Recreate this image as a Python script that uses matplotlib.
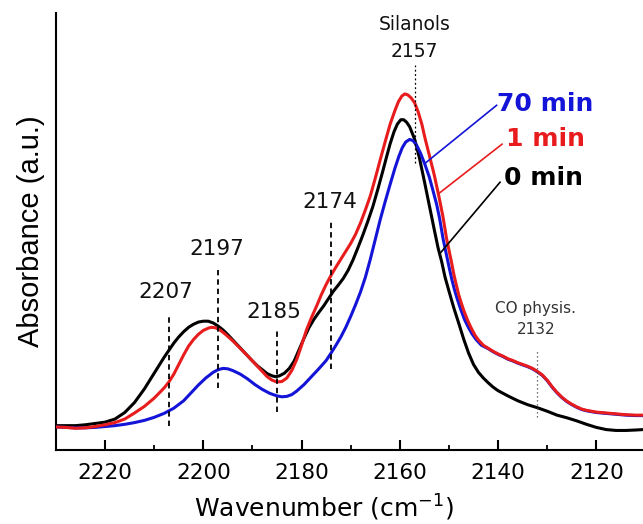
import numpy as np
import matplotlib
matplotlib.use("Agg")
import matplotlib.pyplot as plt
from matplotlib.ticker import MultipleLocator

# CO adsorption spectra, absorbance (a.u.) vs wavenumber (cm-1)
wn_0 = [2230, 2228, 2226, 2224, 2222, 2220, 2218, 2216, 2214, 2212,
        2210, 2208, 2206, 2205, 2204, 2203, 2202, 2201, 2200, 2199,
        2198, 2197, 2196, 2195, 2194, 2193, 2192, 2191, 2190, 2189,
        2188, 2187, 2186, 2185.3, 2184.5, 2183.5, 2182.5, 2181.5, 2180.5, 2179.5,
        2178.5, 2177.5, 2176.5, 2175.5, 2174.5, 2173.5, 2172.5, 2171.5, 2170.5, 2169.5,
        2168.5, 2167.5, 2166.5, 2165.5, 2164.5, 2163.5, 2162.7, 2162, 2161.2, 2160.5,
        2159.8, 2159.2, 2158.6, 2158, 2157, 2156, 2155, 2154, 2153, 2152.2,
        2151.5, 2150.8, 2150, 2149, 2148, 2147, 2146, 2145, 2144, 2143,
        2142, 2141, 2140, 2138, 2136, 2134, 2132, 2130, 2128, 2126,
        2124, 2122, 2120, 2118, 2116, 2114, 2112, 2110.5]
abs_0 = [0.056, 0.056, 0.056, 0.058, 0.061, 0.064, 0.071, 0.086, 0.109, 0.140,
         0.176, 0.212, 0.245, 0.259, 0.271, 0.281, 0.288, 0.293, 0.295, 0.295,
         0.291, 0.284, 0.275, 0.264, 0.252, 0.240, 0.228, 0.216, 0.204, 0.193,
         0.184, 0.175, 0.170, 0.168, 0.170, 0.176, 0.187, 0.204, 0.230, 0.256,
         0.280, 0.299, 0.315, 0.330, 0.347, 0.364, 0.378, 0.393, 0.412, 0.436,
         0.464, 0.493, 0.524, 0.557, 0.596, 0.637, 0.671, 0.700, 0.728, 0.746,
         0.756, 0.756, 0.750, 0.740, 0.712, 0.668, 0.615, 0.560, 0.505, 0.462,
         0.432, 0.396, 0.364, 0.325, 0.290, 0.254, 0.222, 0.196, 0.178, 0.165,
         0.154, 0.144, 0.136, 0.124, 0.113, 0.104, 0.097, 0.089, 0.080, 0.074,
         0.067, 0.059, 0.052, 0.047, 0.045, 0.045, 0.046, 0.047]

wn_1 = [2230, 2228, 2226, 2224, 2222, 2220, 2218, 2216, 2214, 2212,
        2210, 2208, 2207, 2206, 2205, 2204, 2203, 2202, 2201, 2200,
        2199, 2198.4, 2197.5, 2196.5, 2195.5, 2194, 2192.5, 2191, 2189.5, 2188,
        2187, 2186, 2185, 2184, 2183, 2182, 2181, 2180, 2179, 2178,
        2177, 2176, 2175, 2174, 2173, 2172, 2171, 2170, 2169, 2168,
        2167, 2166, 2165, 2164, 2163, 2162, 2161, 2160.3, 2159.6, 2159,
        2158.4, 2157.7, 2157, 2156.3, 2155.5, 2154.9, 2154, 2153, 2152, 2151.2,
        2150.5, 2150, 2149.5, 2149, 2148.5, 2148, 2147.5, 2147, 2146.2, 2145.5,
        2144.7, 2144, 2143, 2142, 2141, 2140, 2139, 2138, 2137, 2136,
        2135, 2134, 2133, 2132, 2131, 2130, 2129, 2128, 2127, 2126,
        2125, 2124, 2123, 2122, 2121, 2120, 2118, 2116, 2114, 2112,
        2110.5]
abs_1 = [0.053, 0.052, 0.050, 0.051, 0.054, 0.058, 0.063, 0.071, 0.085, 0.100,
         0.119, 0.142, 0.156, 0.174, 0.196, 0.218, 0.238, 0.253, 0.265, 0.274,
         0.279, 0.281, 0.280, 0.274, 0.265, 0.250, 0.233, 0.216, 0.198, 0.180,
         0.168, 0.160, 0.156, 0.157, 0.165, 0.182, 0.207, 0.240, 0.275, 0.303,
         0.328, 0.355, 0.379, 0.400, 0.419, 0.437, 0.455, 0.473, 0.494, 0.520,
         0.550, 0.582, 0.622, 0.664, 0.705, 0.745, 0.777, 0.797, 0.810, 0.815,
         0.813, 0.806, 0.795, 0.775, 0.745, 0.715, 0.675, 0.630, 0.578, 0.533,
         0.485, 0.458, 0.431, 0.402, 0.378, 0.355, 0.337, 0.320, 0.297, 0.280,
         0.263, 0.252, 0.240, 0.233, 0.226, 0.220, 0.215, 0.209, 0.205, 0.200,
         0.196, 0.192, 0.187, 0.180, 0.172, 0.160, 0.145, 0.132, 0.121, 0.112,
         0.105, 0.099, 0.094, 0.091, 0.089, 0.087, 0.085, 0.083, 0.081, 0.080,
         0.080]

wn_70 = [2230, 2228, 2226, 2224, 2222, 2220, 2218, 2216, 2214, 2212,
         2210, 2208, 2206, 2204, 2202.5, 2201, 2199.5, 2198, 2197, 2196,
         2195, 2194, 2192.5, 2191, 2189.5, 2188, 2186.5, 2185, 2184, 2183,
         2182, 2181, 2179.5, 2178, 2176.5, 2175, 2174, 2173, 2172, 2171,
         2170, 2169, 2168, 2167, 2166, 2165, 2164, 2163, 2162, 2161,
         2160.2, 2159.5, 2158.8, 2158, 2157.3, 2156.6, 2155.8, 2154.9, 2154, 2153.3,
         2152.5, 2151.9, 2151.2, 2150.7, 2150.3, 2149.8, 2149.4, 2148.9, 2148.4, 2147.6,
         2146.8, 2146, 2145.3, 2144.4, 2143.4, 2142, 2141, 2140, 2139, 2138,
         2137, 2136, 2135, 2134, 2133, 2132, 2131, 2130, 2129, 2128,
         2127, 2126, 2125, 2124, 2123, 2122, 2121, 2120, 2118, 2116,
         2114, 2112, 2110.5]
abs_70 = [0.053, 0.052, 0.051, 0.051, 0.052, 0.054, 0.056, 0.059, 0.063, 0.068,
          0.075, 0.084, 0.096, 0.113, 0.131, 0.149, 0.165, 0.178, 0.184, 0.187,
          0.186, 0.182, 0.174, 0.163, 0.150, 0.139, 0.130, 0.124, 0.122, 0.123,
          0.127, 0.135, 0.150, 0.168, 0.186, 0.205, 0.222, 0.240, 0.259, 0.281,
          0.306, 0.333, 0.362, 0.396, 0.437, 0.482, 0.527, 0.568, 0.607, 0.645,
          0.672, 0.692, 0.705, 0.711, 0.708, 0.698, 0.680, 0.654, 0.625, 0.596,
          0.562, 0.530, 0.484, 0.457, 0.436, 0.410, 0.390, 0.368, 0.349, 0.322,
          0.298, 0.280, 0.266, 0.252, 0.240, 0.232, 0.225, 0.219, 0.214, 0.208,
          0.204, 0.199, 0.195, 0.191, 0.186, 0.179, 0.171, 0.159, 0.144, 0.131,
          0.120, 0.111, 0.104, 0.098, 0.093, 0.090, 0.088, 0.086, 0.084, 0.082,
          0.080, 0.079, 0.079]

# band assignments: position, label anchor (wn, abs), line span (abs)
bands = [2207, 2197, 2185, 2174]
band_text_xy = [(2207.6, 0.362), (2197.2, 0.460), (2185.6, 0.316), (2174.2, 0.567)]
band_span = [(0.055, 0.309), (0.141, 0.412), (0.088, 0.275), (0.185, 0.522)]

red = '#e81c1c'
blue = '#1414d8'

fig = plt.figure(figsize=(6.43, 5.24), dpi=100)
ax = fig.add_axes([0.087, 0.141, 0.913, 0.834])

line_kw = dict(lw=2.2, solid_joinstyle='round', solid_capstyle='round')
ax.plot(wn_0, abs_0, color='black', zorder=3, **line_kw)
ax.plot(wn_70, abs_70, color=blue, zorder=3, **line_kw)
ax.plot(wn_1, abs_1, color=red, zorder=4, **line_kw)

for b, (tx, ty), (y0, y1) in zip(bands, band_text_xy, band_span):
    ax.plot([b, b], [y0, y1], color='black', lw=1.3, ls=(0, (3, 2.2)), zorder=5)
    ax.text(tx, ty, str(b), fontsize=15.5, ha='center', va='center', color='#111111')

# silanol band
ax.plot([2157, 2157], [0.657, 0.881], color='black', lw=0.9, ls=(0, (1.5, 2)), zorder=5)
ax.text(2157, 0.973, 'Silanols', fontsize=13.5, ha='center', va='center', color='#111111')
ax.text(2157, 0.911, '2157', fontsize=13.5, ha='center', va='center', color='#111111')

# physisorbed CO
ax.plot([2132, 2132], [0.076, 0.229], color='#444444', lw=0.9, ls=(0, (1, 2.2)), zorder=5)
ax.text(2132.3, 0.323, 'CO physis.', fontsize=11, ha='center', va='center', color='#333333')
ax.text(2132.3, 0.276, '2132', fontsize=11, ha='center', va='center', color='#333333')

# curve labels with leader lines
ax.plot([2154.9, 2140.3], [0.656, 0.789], color=blue, lw=1.2, zorder=6)
ax.plot([2152.2, 2139.2], [0.586, 0.700], color=red, lw=1.2, zorder=6)
ax.plot([2151.9, 2139.6], [0.449, 0.613], color='black', lw=1.2, zorder=6)
ax.text(2140.3, 0.793, '70 min', fontsize=18, fontweight='bold', color=blue, ha='left', va='center')
ax.text(2138.3, 0.713, '1 min', fontsize=18, fontweight='bold', color=red, ha='left', va='center')
ax.text(2138.7, 0.622, '0 min', fontsize=18, fontweight='bold', color='black', ha='left', va='center')

ax.set_xlim(2230, 2110.5)
ax.set_ylim(0, 1.0)
ax.xaxis.set_major_locator(MultipleLocator(20))
ax.xaxis.set_minor_locator(MultipleLocator(10))
ax.tick_params(axis='x', which='major', direction='in', length=7, width=1.5, labelsize=15.5, pad=9)
ax.tick_params(axis='x', which='minor', direction='in', length=3.6, width=1.3)
ax.set_yticks([])
for s in ['top', 'right']:
    ax.spines[s].set_visible(False)
for s in ['left', 'bottom']:
    ax.spines[s].set_linewidth(1.5)

ax.set_xlabel('Wavenumber (cm$^{-1}$)', fontsize=18)
ax.xaxis.set_label_coords(0.457, -0.098)
ax.set_ylabel('Absorbance (a.u.)', fontsize=21, family='Liberation Sans', labelpad=8)

fig.savefig('out.png', dpi=100)
